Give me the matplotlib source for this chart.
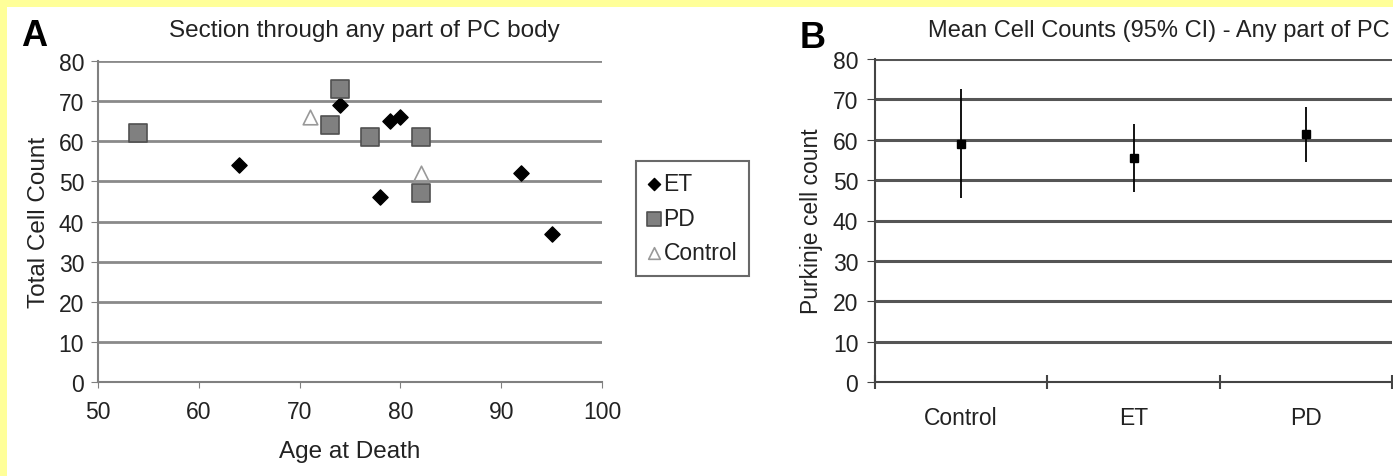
import matplotlib.pyplot as plt
from matplotlib.patches import Rectangle

plt.rcParams["font.family"] = ["Liberation Sans", "DejaVu Sans"]

# panel A: age at death vs total cell count
et_age = [64, 74, 78, 79, 80, 92, 95]
et_count = [54, 69, 46, 65, 66, 52, 37]
pd_age = [54, 73, 74, 77, 82, 82]
pd_count = [62, 64, 73, 61, 61, 47]
ctrl_age = [71, 82]
ctrl_count = [66, 52]

# panel B: mean counts with 95% CI
groups = ["Control", "ET", "PD"]
means = [59, 55.5, 61.5]
ci_low = [45.5, 47, 54.5]
ci_high = [72.5, 64, 68]

W, H = 1393, 477
fig = plt.figure(figsize=(W / 100, H / 100), dpi=100)
fig.patch.set_facecolor("white")

# yellow frame on top and left
fig.add_artist(Rectangle((0, 1 - 8 / H), 1, 8 / H, transform=fig.transFigure,
                         facecolor="#FFFF99", edgecolor="none", zorder=-5))
fig.add_artist(Rectangle((0, 0), 7 / W, 1, transform=fig.transFigure,
                         facecolor="#FFFF99", edgecolor="none", zorder=-5))

FS = 16.5


def box(l, r, t, b):
    return [l / W, 1 - b / H, (r - l) / W, (b - t) / H]


# ---- panel A ----
ax = fig.add_axes(box(98, 602, 62, 383))
for y in range(10, 90, 10):
    ax.axhline(y, color="#8a8a8a", linewidth=2, zorder=1)
ax.scatter(et_age, et_count, marker="D", s=60, color="black", zorder=3, label="ET")
ax.scatter(pd_age, pd_count, marker="s", s=150, facecolor="#808080",
           edgecolor="#505050", linewidth=1.2, zorder=3, label="PD")
ax.scatter(ctrl_age, ctrl_count, marker="^", s=110, facecolor="white",
           edgecolor="#999999", linewidth=1.2, zorder=3, label="Control")
ax.set_xlim(50, 100)
ax.set_ylim(0, 80)
ax.set_xticks(range(50, 101, 10))
ax.set_yticks(range(0, 81, 10))
for s in ["top", "right"]:
    ax.spines[s].set_visible(False)
for s in ["left", "bottom"]:
    ax.spines[s].set_color("#808080")
    ax.spines[s].set_linewidth(1.5)
ax.tick_params(axis="y", length=5, color="#808080", labelsize=FS, pad=5,
               labelcolor="#222222")
ax.tick_params(axis="x", length=4, color="#808080", labelsize=FS, pad=9,
               labelcolor="#222222")
ax.set_xlabel("Age at Death", fontsize=17.5, labelpad=12, color="#222222")
ax.set_ylabel("Total Cell Count", fontsize=17.5, labelpad=6, color="#222222")
fig.text(364 / W, 1 - 31 / H, "Section through any part of PC body",
         ha="center", va="center", fontsize=17.5, color="#222222")
fig.text(21 / W, 1 - 36 / H, "A", fontsize=26, fontweight="bold", va="center")

leg = ax.legend(loc="upper left", bbox_to_anchor=(636 / W, 1 - 162 / H),
                bbox_transform=fig.transFigure, frameon=True, fancybox=False,
                fontsize=FS, handletextpad=0.1, handlelength=0.6,
                borderpad=0.5, labelspacing=0.5, markerscale=0.8,
                borderaxespad=0)
leg.get_frame().set_edgecolor("#444444")
leg.get_frame().set_linewidth(1.5)
for t in leg.get_texts():
    t.set_color("#222222")

# ---- panel B ----
bx = fig.add_axes(box(875, 1392, 60, 383))
for y in range(10, 90, 10):
    bx.axhline(y, color="#555555", linewidth=2.2, zorder=1)
xpos = [0.5, 1.5, 2.5]
bx.errorbar(xpos, means,
            yerr=[[m - lo for m, lo in zip(means, ci_low)],
                  [hi - m for m, hi in zip(means, ci_high)]],
            fmt="s", color="black", markersize=6, elinewidth=1.3,
            capsize=0, zorder=3)
bx.set_xlim(0, 3)
bx.set_ylim(0, 80)
bx.set_yticks(range(0, 81, 10))
bx.set_xticks([0, 1, 2, 3])
bx.set_xticklabels([])
bx.set_xticks(xpos, minor=True)
bx.set_xticklabels(groups, minor=True)
for s in ["top", "right"]:
    bx.spines[s].set_visible(False)
for s in ["left", "bottom"]:
    bx.spines[s].set_color("#444444")
    bx.spines[s].set_linewidth(1.5)
bx.tick_params(axis="y", length=6, color="#444444", labelsize=FS, pad=6,
               labelcolor="#222222")
bx.tick_params(axis="x", which="major", direction="inout", length=10,
               color="#444444", width=1.5)
bx.tick_params(axis="x", which="minor", length=0, labelsize=FS, pad=17,
               labelcolor="#222222")
bx.set_ylabel("Purkinje cell count", fontsize=16.5, labelpad=7, color="#222222")
fig.text(1390 / W, 1 - 31 / H, "Mean Cell Counts (95% CI) - Any part of PC",
         ha="right", va="center", fontsize=17, color="#222222")
fig.text(800 / W, 1 - 38 / H, "B", fontsize=26, fontweight="bold", va="center")

fig.savefig("out.png", dpi=100)
